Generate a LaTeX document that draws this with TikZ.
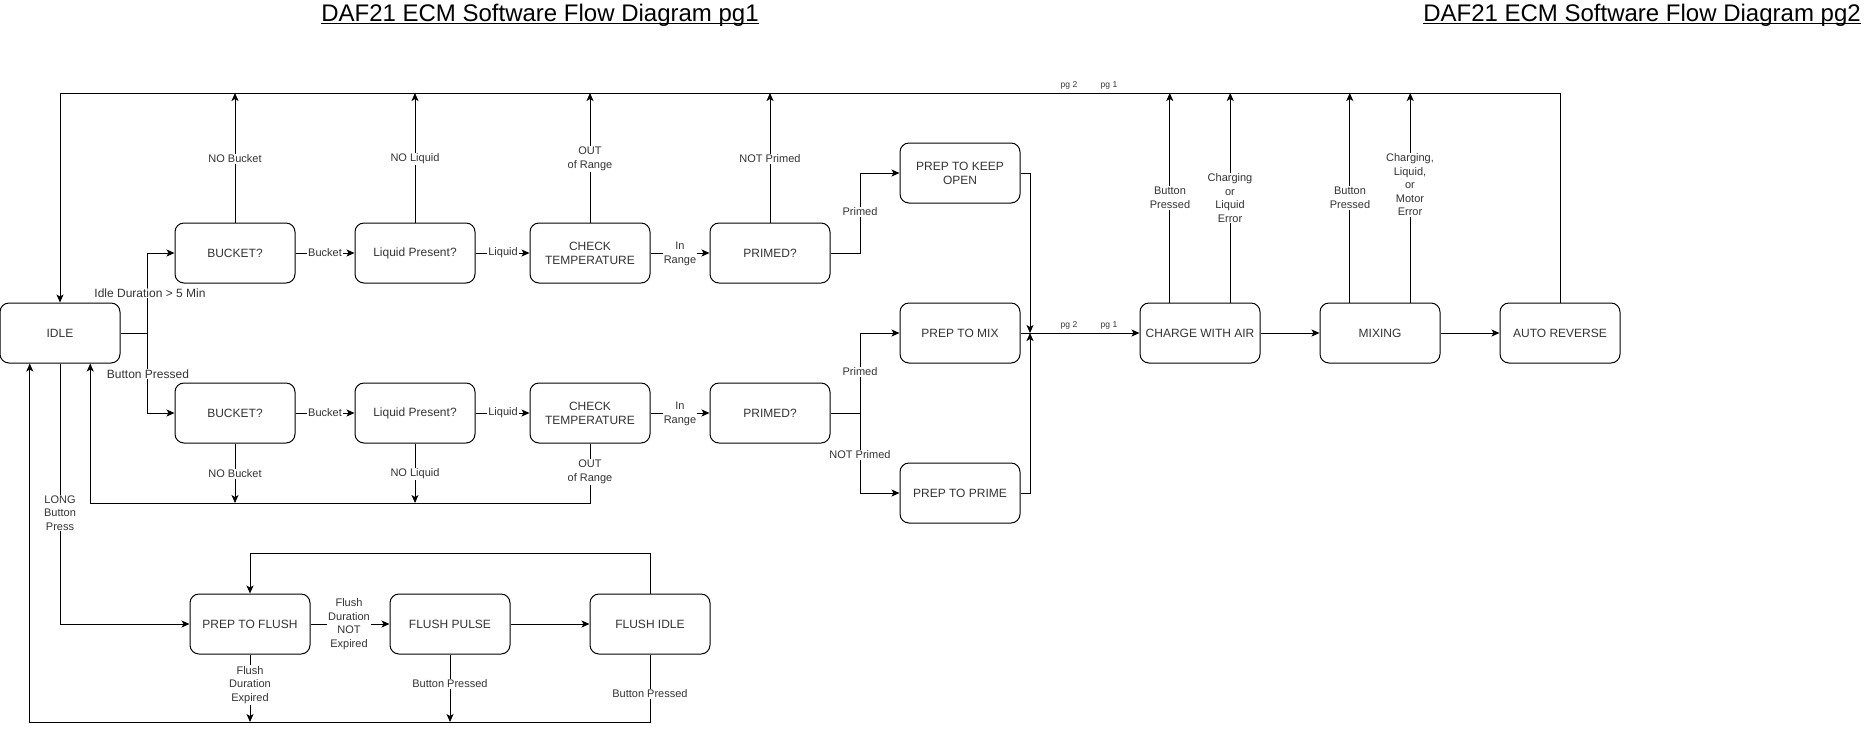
\documentclass[tikz,border=0pt]{standalone}
\usepackage{fontspec}
\setmainfont{Liberation Sans}
\usetikzlibrary{arrows.meta,calc}

\begin{document}
\begin{tikzpicture}[x=1pt,y=-1pt,
  state/.style={draw, line width=1pt, rounded corners=9pt, minimum width=120pt,
    minimum height=60pt, inner sep=0pt, align=center,
    font=\fontsize{12}{14}\selectfont, text=black!80},
  flow/.style={line width=1pt, -{Stealth[length=8pt,width=7pt,inset=2pt]}},
  link/.style={line width=1pt},
  elabel/.style={fill=white, inner sep=1pt, align=center,
    font=\fontsize{11}{13.5}\selectfont, text=black!80},
  biglabel/.style={elabel, font=\fontsize{12}{14}\selectfont},
  pglabel/.style={inner sep=0pt, font=\fontsize{8.5}{10}\selectfont, text=black!80},
  title/.style={inner sep=0pt, anchor=base, font=\fontsize{24}{28}\selectfont}
]
\useasboundingbox (0,0) rectangle (1866,732);

% page titles
\node[title] (t1) at (540,21) {DAF21 ECM Software Flow Diagram pg1};
\node[title] (t2) at (1642,21) {DAF21 ECM Software Flow Diagram pg2};
\draw[line width=1.2pt] ($(t1.base west)+(0,2.5)$) -- ($(t1.base east)+(0,2.5)$);
\draw[line width=1.2pt] ($(t2.base west)+(0,2.5)$) -- ($(t2.base east)+(0,2.5)$);

% states
\node[state] (idle)   at (60,333)   {IDLE};
\node[state] (b1)     at (235,253)  {BUCKET?};
\node[state] (l1)     at (415,253)  {Liquid Present?};
\node[state] (c1)     at (590,253)  {CHECK\\TEMPERATURE};
\node[state] (p1)     at (770,253)  {PRIMED?};
\node[state] (b2)     at (235,413)  {BUCKET?};
\node[state] (l2)     at (415,413)  {Liquid Present?};
\node[state] (c2)     at (590,413)  {CHECK\\TEMPERATURE};
\node[state] (p2)     at (770,413)  {PRIMED?};
\node[state] (keep)   at (960,173)  {PREP TO KEEP\\OPEN};
\node[state] (mix)    at (960,333)  {PREP TO MIX};
\node[state] (prime)  at (960,493)  {PREP TO PRIME};
\node[state] (charge) at (1200,333) {CHARGE WITH AIR};
\node[state] (mixing) at (1380,333) {MIXING};
\node[state] (rev)    at (1560,333) {AUTO REVERSE};
\node[state] (pflush) at (250,624)  {PREP TO FLUSH};
\node[state] (pulse)  at (450,624)  {FLUSH PULSE};
\node[state] (fidle)  at (650,624)  {FLUSH IDLE};

% routing rails
\coordinate (top)   at (0,93);
\coordinate (ret)   at (0,503);
\coordinate (loop)  at (0,553);
\coordinate (bot)   at (0,722);
\coordinate (split) at (147.5,333);
\coordinate (merge) at (1030,333);
\coordinate (idleL) at ($(idle.south west)!0.25!(idle.south east)$);
\coordinate (idleR) at ($(idle.south west)!0.75!(idle.south east)$);
\coordinate (ch1) at ($(charge.north west)!0.25!(charge.north east)$);
\coordinate (ch2) at ($(charge.north west)!0.75!(charge.north east)$);
\coordinate (mx1) at ($(mixing.north west)!0.25!(mixing.north east)$);
\coordinate (mx2) at ($(mixing.north west)!0.75!(mixing.north east)$);

% top return rail back to IDLE
\draw[flow] (rev.north) |- (idle.north |- top) -- (idle.north);
\draw[flow] (b1.north) -- (b1.north |- top);
\draw[flow] (l1.north) -- (l1.north |- top);
\draw[flow] (c1.north) -- (c1.north |- top);
\draw[flow] (p1.north) -- (p1.north |- top);
\draw[flow] (ch1) -- (ch1 |- top);
\draw[flow] (ch2) -- (ch2 |- top);
\draw[flow] (mx1) -- (mx1 |- top);
\draw[flow] (mx2) -- (mx2 |- top);

% IDLE branches
\draw[link] (idle.east) -- (split);
\draw[flow] (split) |- (b1.west);
\draw[flow] (split) |- (b2.west);

% check chains
\draw[flow] (b1.east) -- (l1.west);
\draw[flow] (l1.east) -- (c1.west);
\draw[flow] (c1.east) -- (p1.west);
\draw[flow] (b2.east) -- (l2.west);
\draw[flow] (l2.east) -- (c2.west);
\draw[flow] (c2.east) -- (p2.west);

% primed decisions
\draw[flow] (p1.east) -- ++(30,0) |- (keep.west);
\draw[flow] (p2.east) -- ++(30,0) |- (mix.west);
\draw[flow] (p2.east) -- ++(30,0) |- (prime.west);

% merge into the charge phase
\draw[flow] (keep.east) -| (merge);
\draw[flow] (prime.east) -| (merge);
\draw[flow] (mix.east) -- (charge.west);
\draw[flow] (charge.east) -- (mixing.west);
\draw[flow] (mixing.east) -- (rev.west);

% lower return rail
\draw[flow] (b2.south) -- (b2.south |- ret);
\draw[flow] (l2.south) -- (l2.south |- ret);
\draw[flow] (c2.south) |- (idleR |- ret) -- (idleR);

% flush cycle
\draw[flow] (idle.south) |- (pflush.west);
\draw[flow] (pflush.east) -- (pulse.west);
\draw[flow] (pulse.east) -- (fidle.west);
\draw[flow] (fidle.north) |- (pflush.north |- loop) -- (pflush.north);
\draw[flow] (pflush.south) -- (pflush.south |- bot);
\draw[flow] (pulse.south) -- (pulse.south |- bot);
\draw[flow] (fidle.south) |- (idleL |- bot) -- (idleL);

% connector labels
\node[biglabel] (lidle) at (150,293) {Idle Duration > 5 Min};
\node[biglabel] (lbtn)  at (148,374) {Button Pressed};
\node[elabel] (lnb1) at (235,159) {NO Bucket};
\node[elabel] (lnl1) at (415,159) {NO Liquid};
\node[elabel] (lor1) at (590,159) {OUT\\of Range};
\node[elabel] (lnp1) at (770,159) {NOT Primed};
\node[elabel] (lbk1) at (325,253) {Bucket};
\node[elabel] (llq1) at (503,253) {Liquid};
\node[elabel] (lir1) at (680,254) {In\\Range};
\node[elabel] (lbk2) at (325,413) {Bucket};
\node[elabel] (llq2) at (503,413) {Liquid};
\node[elabel] (lir2) at (680,414) {In\\Range};
\node[elabel] (lpr1) at (860,212) {Primed};
\node[elabel] (lpr2) at (860,372) {Primed};
\node[elabel] (lnp2) at (860,455) {NOT Primed};
\node[elabel] (lnb2) at (235,474) {NO Bucket};
\node[elabel] (lnl2) at (415,474) {NO Liquid};
\node[elabel] (lor2) at (590,472) {OUT\\of Range};
\node[elabel] (llong) at (60,513) {LONG\\Button\\Press};
\node[elabel] (lfne) at (349,624) {Flush\\Duration\\NOT\\Expired};
\node[elabel] (lfe)  at (250,685) {Flush\\Duration\\Expired};
\node[elabel] (lbp1) at (450,684) {Button Pressed};
\node[elabel] (lbp2) at (650,694) {Button Pressed};
\node[elabel] (lbp3) at (1170,198) {Button\\Pressed};
\node[elabel] (lce)  at (1230,198) {Charging\\or\\Liquid\\Error};
\node[elabel] (lbp4) at (1350,198) {Button\\Pressed};
\node[elabel] (lme)  at (1410,185) {Charging,\\Liquid,\\or\\Motor\\Error};

% off-page markers
\node[pglabel] (pgA) at (1069,85)  {pg 2};
\node[pglabel] (pgB) at (1109,85)  {pg 1};
\node[pglabel] (pgC) at (1069,325) {pg 2};
\node[pglabel] (pgD) at (1109,325) {pg 1};
\end{tikzpicture}
\end{document}
